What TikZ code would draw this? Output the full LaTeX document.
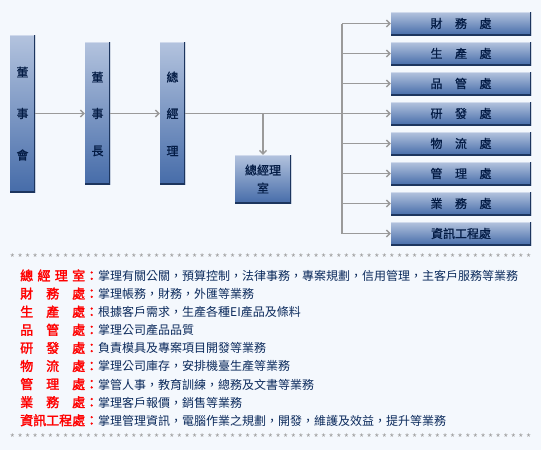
\documentclass[tikz,border=0pt]{standalone}
\usepackage{fontspec}
\setmainfont{Noto Sans CJK TC}
\newfontfamily\cjkb{Noto Sans CJK TC}[FakeBold=2]
\newfontfamily\cjkm{Noto Sans CJK TC}[FakeBold=1]
\usetikzlibrary{arrows.meta}
\definecolor{bg}{HTML}{F4F8FD}
\definecolor{boxtop}{HTML}{B3C3DE}
\definecolor{boxbot}{HTML}{466CA9}
\definecolor{boxdark}{HTML}{1C355E}
\definecolor{boxlight}{HTML}{D0DAEC}
\definecolor{navy}{HTML}{0B2A5C}
\definecolor{boxink}{HTML}{041C45}
\definecolor{conn}{HTML}{9A9A9A}
\definecolor{star}{HTML}{A0A0A0}
\tikzset{
  orgbox/.style={inner sep=0pt, top color=boxtop, bottom color=boxbot, draw=none,
    path picture={
      \draw[boxlight,line width=2pt] (path picture bounding box.north west) -- (path picture bounding box.north east);
      \draw[boxdark,line width=2pt] (path picture bounding box.south west) -- (path picture bounding box.south east) -- (path picture bounding box.north east);
    }},
  boxtxt/.style={inner sep=0pt, text=boxink, font=\cjkm\fontsize{12}{14}\selectfont},
  link/.style={draw=conn, line width=1.3pt},
  arr/.style={link, -{Straight Barb[length=3.5pt,width=7pt,line width=1.3pt]}},
  starmark/.style={inner sep=0pt, text=star, font=\fontsize{11}{11}\selectfont},
  desc/.style={inner sep=0pt, anchor=west, text=navy, font=\fontsize{12}{14}\selectfont},
}
\newcommand\lbl[1]{{\color{red}\cjkb\fontsize{13}{14}\selectfont #1：}}
\begin{document}
\begin{tikzpicture}[x=1pt,y=-1pt]
\fill[bg] (0,0) rectangle (541,450);
\useasboundingbox (0,0) rectangle (541,450);

% left vertical boxes
\node[orgbox, minimum width=25pt, minimum height=157pt] (bod) at (22.5,113.5) {};
\node[orgbox, minimum width=25pt, minimum height=142pt] (chair) at (97.5,113) {};
\node[orgbox, minimum width=25pt, minimum height=142pt] (gm) at (172.5,113) {};
\node[orgbox, minimum width=56pt, minimum height=48pt] (gmo) at (263,179) {};

\node[boxtxt] (t1a) at (22.5,72) {董};
\node[boxtxt] (t1b) at (22.5,113.5) {事};
\node[boxtxt] (t1c) at (22.5,155) {會};
\node[boxtxt] (t2a) at (97.5,77) {董};
\node[boxtxt] (t2b) at (97.5,113.5) {事};
\node[boxtxt] (t2c) at (97.5,151) {長};
\node[boxtxt] (t3a) at (172.5,77) {總};
\node[boxtxt] (t3b) at (172.5,113.5) {經};
\node[boxtxt] (t3c) at (172.5,151) {理};
\node[boxtxt] (t4a) at (263,170) {總經理};
\node[boxtxt] (t4b) at (263,188) {室};

% right boxes
\foreach \i/\nm/\txt in {0/d1/{財\hspace{12.5pt}務\hspace{12.5pt}處},1/d2/{生\hspace{12.5pt}產\hspace{12.5pt}處},2/d3/{品\hspace{12.5pt}管\hspace{12.5pt}處},3/d4/{研\hspace{12.5pt}發\hspace{12.5pt}處},4/d5/{物\hspace{12.5pt}流\hspace{12.5pt}處},5/d6/{管\hspace{12.5pt}理\hspace{12.5pt}處},6/d7/{業\hspace{12.5pt}務\hspace{12.5pt}處},7/d8/{資訊工程處}}{
  \node[orgbox, minimum width=140pt, minimum height=23pt] (\nm) at (461,23.5+30*\i) {};
  \node[boxtxt] (\nm t) at (461,23.5+30*\i) {\txt};
}

% connectors
\coordinate (jn) at (342,113.5);
\coordinate (dp) at (263,113.5);
\coordinate (vtop) at (342,23.5);
\coordinate (vbot) at (342,233.5);
\draw[arr] (bod.east |- 0,113.5) -- (chair.west |- 0,113.5);
\draw[arr] (chair.east |- 0,113.5) -- (gm.west |- 0,113.5);
\draw[link] (gm.east |- 0,113.5) -- (jn);
\draw[arr] (dp) -- (gmo.north);
\draw[link] (vtop) -- (vbot);
\foreach \nm in {d1,d2,d3,d4,d5,d6,d7,d8}{
  \draw[arr] (vtop |- \nm.west) -- (\nm.west);
}

% star rows
\foreach \k in {0,...,68}{
  \node[starmark] (sa\k) at (12.5+7.59*\k,258) {*};
  \node[starmark] (sb\k) at (12.5+7.59*\k,438) {*};
}

% descriptions
\node[desc] (e0) at (20,275.5) {\lbl{\makebox[65pt][s]{總\hfill 經\hfill 理\hfill 室}}掌理有關公關，預算控制，法律事務，專案規劃，信用管理，主客戶服務等業務};
\node[desc] (e1) at (20,293.6) {\lbl{\makebox[65pt][s]{財\hfill 務\hfill 處}}掌理帳務，財務，外匯等業務};
\node[desc] (e2) at (20,311.7) {\lbl{\makebox[65pt][s]{生\hfill 產\hfill 處}}根據客戶需求，生產各種EI產品及條料};
\node[desc] (e3) at (20,329.8) {\lbl{\makebox[65pt][s]{品\hfill 管\hfill 處}}掌理公司產品品質};
\node[desc] (e4) at (20,347.9) {\lbl{\makebox[65pt][s]{研\hfill 發\hfill 處}}負責模具及專案項目開發等業務};
\node[desc] (e5) at (20,366.0) {\lbl{\makebox[65pt][s]{物\hfill 流\hfill 處}}掌理公司庫存，安排機臺生產等業務};
\node[desc] (e6) at (20,384.1) {\lbl{\makebox[65pt][s]{管\hfill 理\hfill 處}}掌管人事，教育訓練，總務及文書等業務};
\node[desc] (e7) at (20,402.2) {\lbl{\makebox[65pt][s]{業\hfill 務\hfill 處}}掌理客戶報價，銷售等業務};
\node[desc] (e8) at (20,420.3) {\lbl{\makebox[65pt][s]{資訊工程處}}掌理管理資訊，電腦作業之規劃，開發，維護及效益，提升等業務};
\end{tikzpicture}
\end{document}
